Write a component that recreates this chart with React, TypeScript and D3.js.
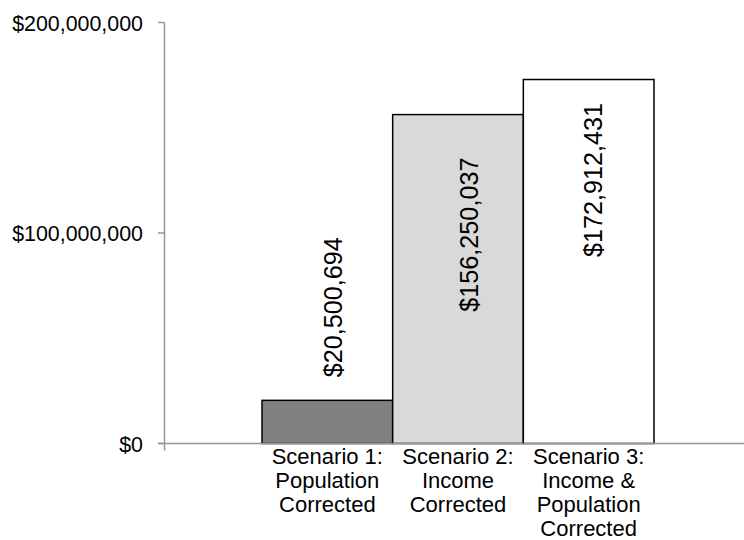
import React from "react";
import * as d3 from "d3";

const categories: string[][] = [
  ["Scenario 1:", "Population", "Corrected"],
  ["Scenario 2:", "Income", "Corrected"],
  ["Scenario 3:", "Income &", "Population", "Corrected"],
];
const values: number[] = [20500694, 156250037, 172912431];
const yTicks: number[] = [0, 100000000, 200000000];

const barFills = ["#808080", "#D9D9D9", "#FFFFFF"];
// label placement style: anchor, vertical offset from bar top, horizontal offset from band centre
const labelStyle: { anchor: "start" | "end"; dy: number; dx: number }[] = [
  { anchor: "start", dy: -23, dx: 15 },
  { anchor: "end", dy: 43, dx: 20 },
  { anchor: "end", dy: 23.5, dx: 13 },
];

const W = 744;
const H = 540;
const FONT = "'Liberation Sans', Arial, sans-serif";

export default function App() {
  const y = d3.scaleLinear().domain([0, 200000000]).range([443.5, 22.5]);
  const x = d3
    .scaleBand<number>()
    .domain(values.map((_, i) => i))
    .range([262, 654])
    .padding(0);
  const axisX = 164.5;
  const fmt = (v: number) => "$" + d3.format(",")(v);

  return (
    <svg
      width={W}
      height={H}
      style={{ position: "absolute", left: 0, top: 0, background: "#fff" }}
      fontFamily={FONT}
    >
      {/* bars */}
      {values.map((v, i) => (
        <rect
          key={i}
          x={x(i)!}
          y={y(v)}
          width={x.bandwidth()}
          height={y(0) - y(v)}
          fill={barFills[i]}
          stroke="#000"
          strokeWidth={1.5}
        />
      ))}
      {/* axes */}
      <line x1={158} x2={W} y1={y(0)} y2={y(0)} stroke="#969696" strokeWidth={1.5} />
      <line x1={axisX} x2={axisX} y1={y(200000000)} y2={y(0) + 7} stroke="#969696" strokeWidth={1.5} />
      {yTicks.map((t) => (
        <g key={t}>
          <line x1={158} x2={axisX} y1={y(t)} y2={y(t)} stroke="#969696" strokeWidth={1.5} />
          <text x={143} y={y(t) + 8} textAnchor="end" fontSize={21.4} fill="#000">
            {fmt(t)}
          </text>
        </g>
      ))}
      {/* data labels */}
      {values.map((v, i) => {
        const cx = x(i)! + x.bandwidth() / 2 + labelStyle[i].dx;
        const cy = y(v) + labelStyle[i].dy;
        return (
          <text
            key={i}
            transform={`translate(${cx},${cy}) rotate(-90)`}
            textAnchor={labelStyle[i].anchor}
            fontSize={25.2}
            fill="#000"
          >
            {fmt(v)}
          </text>
        );
      })}
      {/* category labels */}
      {categories.map((lines, i) => (
        <text key={i} x={x(i)! + x.bandwidth() / 2} textAnchor="middle" fontSize={22} fill="#000">
          {lines.map((l, j) => (
            <tspan key={j} x={x(i)! + x.bandwidth() / 2} y={464 + j * 24}>
              {l}
            </tspan>
          ))}
        </text>
      ))}
    </svg>
  );
}
